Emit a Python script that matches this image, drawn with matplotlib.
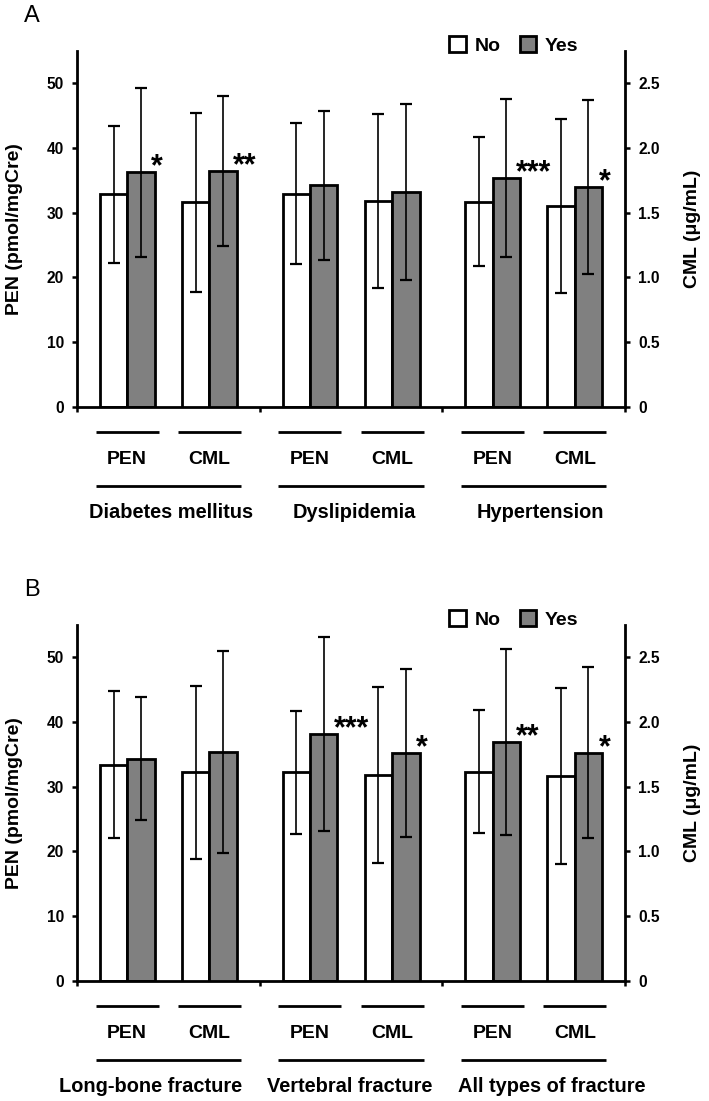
import matplotlib
matplotlib.use("Agg")
import matplotlib.pyplot as plt
from matplotlib.patches import Patch
import numpy as np

plt.rcParams['font.family'] = ['Liberation Sans', 'DejaVu Sans']

# ---------------------------------------------------------------------------
# Data (mean, SD)
# ---------------------------------------------------------------------------
groups_a = ['Diabetes mellitus', 'Dyslipidemia', 'Hypertension']
pen_no_a = [32.8, 32.9, 31.7]
pen_no_sd_a = [10.6, 10.9, 9.9]
pen_yes_a = [36.2, 34.2, 35.3]
pen_yes_sd_a = [13.1, 11.5, 12.2]
cml_no_a = [1.58, 1.59, 1.55]
cml_no_sd_a = [0.69, 0.67, 0.67]
cml_yes_a = [1.82, 1.66, 1.70]
cml_yes_sd_a = [0.58, 0.68, 0.67]
pen_sig_a = ['*', '', '***']
cml_sig_a = ['**', '', '*']

groups_b = ['Long-bone fracture', 'Vertebral fracture', 'All types of fracture']
pen_no_b = [33.4, 32.2, 32.3]
pen_no_sd_b = [11.4, 9.5, 9.5]
pen_yes_b = [34.3, 38.1, 36.9]
pen_yes_sd_b = [9.5, 15.0, 14.3]
cml_no_b = [1.61, 1.59, 1.58]
cml_no_sd_b = [0.67, 0.68, 0.68]
cml_yes_b = [1.77, 1.76, 1.76]
cml_yes_sd_b = [0.78, 0.65, 0.66]
pen_sig_b = ['', '***', '**']
cml_sig_b = ['', '*', '*']

pen_ticks = [0, 10, 20, 30, 40, 50]
cml_ticks = [0, 0.5, 1.0, 1.5, 2.0, 2.5]
cml_ticklabels = ['0', '0.5', '1.0', '1.5', '2.0', '2.5']

# layout
GRAY = '#808080'
W = 0.3          # bar width
HALF_LINE = 0.345
FIG_W, FIG_H = 709, 1101
AX_L, AX_W, AX_H = 77, 548, 356.4
# horizontal nudge of the group labels (x units)
label_shift_a = [0.03, 0.04, 0.07]
label_shift_b = [-0.19, -0.01, 0.2]


def style_axis(ax, side):
    for s in ['top', 'left', 'right', 'bottom']:
        ax.spines[s].set_visible(False)
    ax.spines[side].set_visible(True)
    ax.spines[side].set_linewidth(2.0)
    ax.tick_params(axis='y', direction='out', length=3.5, width=1.8, pad=6,
                   labelsize=11.2)
    for lab in ax.get_yticklabels():
        lab.set_fontweight('bold')


def draw_panel(fig, top_px, letter, groups, pen_no, pen_no_sd, pen_yes, pen_yes_sd,
               cml_no, cml_no_sd, cml_yes, cml_yes_sd, pen_sig, cml_sig, shifts):
    bottom = 1 - (top_px + AX_H) / FIG_H
    ax = fig.add_axes([AX_L / FIG_W, bottom, AX_W / FIG_W, AX_H / FIG_H])
    ax2 = ax.twinx()

    g = np.arange(len(groups))
    pen_x = 2 * g + 0.55
    cml_x = 2 * g + 1.45

    ax.bar(pen_x - W / 2, pen_no, W, color='white', edgecolor='black', linewidth=2, zorder=2)
    ax.bar(pen_x + W / 2, pen_yes, W, color=GRAY, edgecolor='black', linewidth=2, zorder=2)
    ax.errorbar(pen_x - W / 2, pen_no, yerr=pen_no_sd, fmt='none', ecolor='black',
                elinewidth=1.2, capsize=4, capthick=1.6, zorder=3)
    ax.errorbar(pen_x + W / 2, pen_yes, yerr=pen_yes_sd, fmt='none', ecolor='black',
                elinewidth=1.2, capsize=4, capthick=1.6, zorder=3)

    ax2.bar(cml_x - W / 2, cml_no, W, color='white', edgecolor='black', linewidth=2, zorder=2)
    ax2.bar(cml_x + W / 2, cml_yes, W, color=GRAY, edgecolor='black', linewidth=2, zorder=2)
    ax2.errorbar(cml_x - W / 2, cml_no, yerr=cml_no_sd, fmt='none', ecolor='black',
                 elinewidth=1.2, capsize=4, capthick=1.6, zorder=3)
    ax2.errorbar(cml_x + W / 2, cml_yes, yerr=cml_yes_sd, fmt='none', ecolor='black',
                 elinewidth=1.2, capsize=4, capthick=1.6, zorder=3)

    # significance marks
    for i in range(len(groups)):
        if pen_sig[i]:
            ax.text(pen_x[i] + W - 0.04, pen_yes[i] - 0.5, pen_sig[i], fontsize=22,
                    fontweight='bold', ha='left', va='baseline')
        if cml_sig[i]:
            ax2.text(cml_x[i] + W - 0.04, cml_yes[i] - 0.025, cml_sig[i], fontsize=22,
                     fontweight='bold', ha='left', va='baseline')

    ax.set_xlim(0, 6)
    ax.set_ylim(0, 55)
    ax2.set_ylim(0, 2.75)
    ax.set_yticks(pen_ticks)
    ax.set_yticklabels([str(t) for t in pen_ticks])
    ax2.set_yticks(cml_ticks)
    ax2.set_yticklabels(cml_ticklabels)
    style_axis(ax, 'left')
    style_axis(ax2, 'right')
    ax.spines['bottom'].set_visible(True)
    ax.spines['bottom'].set_linewidth(2.0)
    ax.set_xticks([0, 2, 4, 6])
    ax.set_xticklabels([])
    ax.tick_params(axis='x', direction='out', length=3.5, width=1.8)

    ax.set_ylabel('PEN (pmol/mgCre)', fontsize=14, fontweight='bold')
    ax.yaxis.set_label_coords((23 - AX_L) / AX_W, 0.5)
    ax2.set_ylabel('CML (μg/mL)', fontsize=14, fontweight='bold', rotation=90)
    ax2.yaxis.set_label_coords((684 - AX_L) / AX_W, 0.5)

    # category brackets under the axis
    tr = ax.get_xaxis_transform()
    y_short = -25 / AX_H
    y_sub = -53 / AX_H
    y_long = -79 / AX_H
    y_grp = -106 / AX_H
    for i in range(len(groups)):
        for cx, name in [(pen_x[i], 'PEN'), (cml_x[i], 'CML')]:
            ax.plot([cx - HALF_LINE, cx + HALF_LINE], [y_short, y_short], color='black',
                    lw=2, transform=tr, clip_on=False, solid_capstyle='butt')
            ax.text(cx, y_sub, name, transform=tr, ha='center', va='center',
                    fontsize=14, fontweight='bold')
        ax.plot([pen_x[i] - HALF_LINE, cml_x[i] + HALF_LINE], [y_long, y_long], color='black',
                lw=2, transform=tr, clip_on=False, solid_capstyle='butt')
        ax.text((pen_x[i] + cml_x[i]) / 2 + shifts[i], y_grp, groups[i], transform=tr,
                ha='center', va='center', fontsize=14.4, fontweight='bold')

    # legend
    handles = [Patch(facecolor='white', edgecolor='black', linewidth=2, label='No'),
               Patch(facecolor=GRAY, edgecolor='black', linewidth=2, label='Yes')]
    fig.legend(handles=handles, ncol=2, frameon=False, loc='center left',
               bbox_to_anchor=(449 / FIG_W, 1 - (top_px - 5) / FIG_H),
               prop={'size': 14, 'weight': 'bold'}, handlelength=0.85, handleheight=0.85,
               handletextpad=0.45, columnspacing=1.0, borderpad=0, borderaxespad=0)

    fig.text(32 / FIG_W, 1 - (top_px - 35) / FIG_H, letter, fontsize=17,
             ha='center', va='center')


fig = plt.figure(figsize=(7.09, 11.01), dpi=100)

draw_panel(fig, 50.6, 'A', groups_a, pen_no_a, pen_no_sd_a, pen_yes_a, pen_yes_sd_a,
           cml_no_a, cml_no_sd_a, cml_yes_a, cml_yes_sd_a, pen_sig_a, cml_sig_a,
           label_shift_a)
draw_panel(fig, 624.6, 'B', groups_b, pen_no_b, pen_no_sd_b, pen_yes_b, pen_yes_sd_b,
           cml_no_b, cml_no_sd_b, cml_yes_b, cml_yes_sd_b, pen_sig_b, cml_sig_b,
           label_shift_b)

fig.savefig('out.png', dpi=100)
plt.close(fig)
